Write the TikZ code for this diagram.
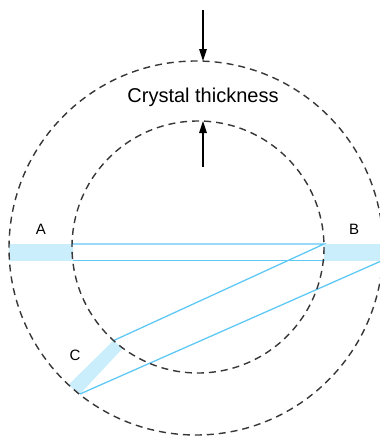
\documentclass[tikz,border=0pt]{standalone}
\usepackage{fontspec}
\setmainfont{Liberation Sans}
\usetikzlibrary{arrows.meta}
\definecolor{bandblue}{RGB}{202,238,251}
\definecolor{rayblue}{RGB}{95,200,245}
\definecolor{dashgray}{RGB}{55,55,55}
\tikzset{
  band/.style={fill=bandblue, draw=none},
  ray/.style={draw=rayblue, line width=1.3pt},
  shell/.style={draw=dashgray, line width=1.4pt, dash pattern=on 7pt off 5pt},
  pointer/.style={draw=black, line width=1.2pt, -{Triangle[length=12pt,width=7.5pt]}},
  lbl/.style={inner sep=0pt, font=\fontsize{15}{18}\selectfont},
  title/.style={inner sep=0pt, font=\fontsize{20}{24}\selectfont}
}
\begin{document}
\begin{tikzpicture}[x=1pt, y=-1pt]
\useasboundingbox (0,0) rectangle (380,439);
\clip (0,0) rectangle (380,439);
% bands
\fill[band] (9,243.5) rectangle (72.5,260.5);
\fill[band] (323.5,243.5) rectangle (390,260.5);
\fill[band] (113.3,340.7) -- (122.7,348.3) -- (80,394) -- (68.3,385) -- cycle;
% ray coordinates
\coordinate (a1) at (72,244);
\coordinate (b1) at (324,244);
\coordinate (a2) at (72.7,260.5);
\coordinate (b2) at (325,260.5);
\coordinate (c1) at (113.3,340.7);
\coordinate (c2) at (80,394);
\coordinate (e2) at (390,257.1);
\draw[ray] (a1) -- (b1) -- (c1);
\draw[ray] (a2) -- (b2);
\draw[ray] (e2) -- (c2);
% crystal shells
\draw[shell] (196,248) circle [radius=187];
\draw[shell] (198,247) circle [radius=126];
% thickness arrows
\coordinate (t0) at (203,10);
\coordinate (t1) at (203,61);
\coordinate (u0) at (203,167);
\coordinate (u1) at (203,121);
\draw[pointer] (t0) -- (t1);
\draw[pointer] (u0) -- (u1);
% labels
\node[title] (thick) at (203,97) {Crystal thickness};
\node[lbl] (A) at (41,229) {A};
\node[lbl] (B) at (354,229) {B};
\node[lbl] (C) at (75,355) {C};
\end{tikzpicture}
\end{document}
